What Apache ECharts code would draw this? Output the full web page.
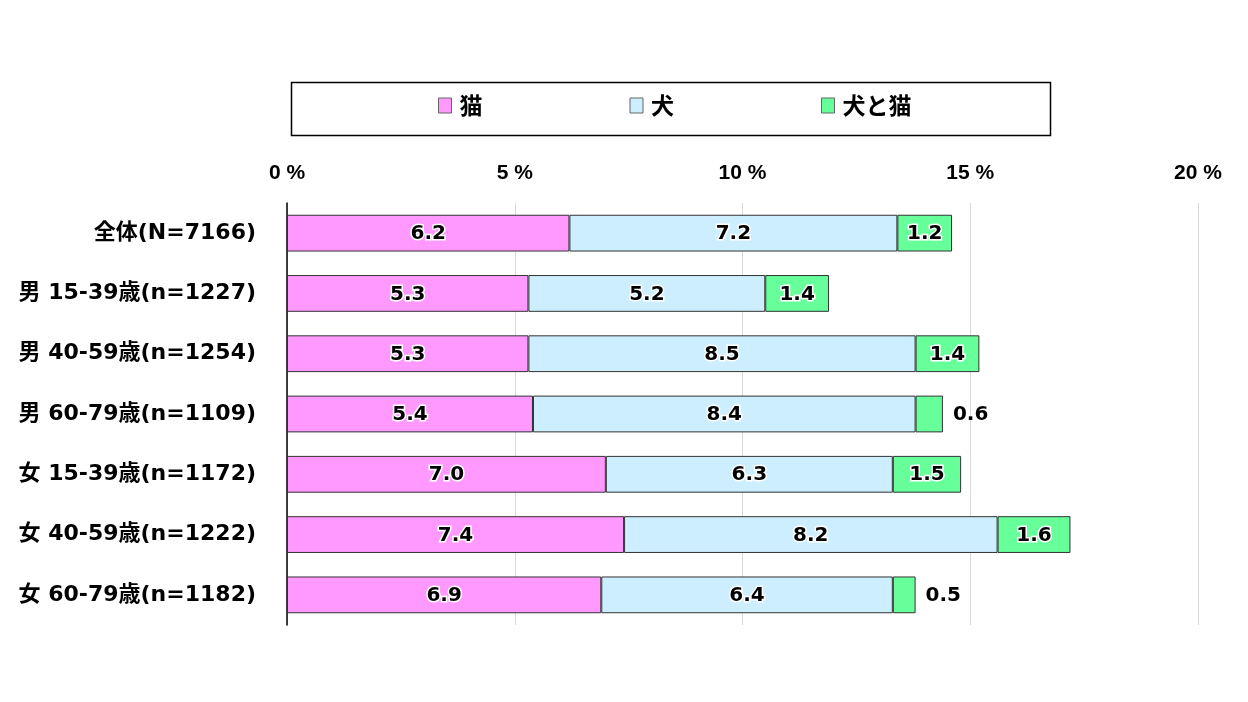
<!DOCTYPE html>
<html>
<head>
<meta charset="utf-8">
<script src="https://cdn.jsdelivr.net/npm/echarts@6/dist/echarts.min.js"></script>
<style>
    html, body { margin: 0; padding: 0; background: #fff; }
    #chart { width: 1248px; height: 702px; }
</style>
</head>
<body>
<div id="chart"></div>
<script>
    // 属性ごとのカテゴリ
    var categories = ['全体(N=7166)', '男 15-39歳(n=1227)', '男 40-59歳(n=1254)', '男 60-79歳(n=1109)',
                      '女 15-39歳(n=1172)', '女 40-59歳(n=1222)', '女 60-79歳(n=1182)'];
    var seriesNames = ['猫', '犬', '犬と猫'];
    var catValues = [6.2, 5.3, 5.3, 5.4, 7.0, 7.4, 6.9];
    var dogValues = [7.2, 5.2, 8.5, 8.4, 6.3, 8.2, 6.4];
    var bothValues = [1.2, 1.4, 1.4, 0.6, 1.5, 1.6, 0.5];
    var xTicks = [0, 5, 10, 15, 20];
    var colors = ['#ff99ff', '#cceeff', '#66ff99'];

    var font = '"DejaVu Sans", "Noto Sans CJK JP", sans-serif';
    var cjkFont = '"Noto Sans CJK JP", sans-serif';

    // 値が小さいときはラベルを棒の外に出す
    function toData(values) {
        return values.map(function (v) {
            if (v < 1) {
                return { value: v, label: { position: 'right', distance: 10, textBorderWidth: 0 } };
            }
            return v;
        });
    }

    var chart = echarts.init(document.getElementById('chart'));

    var series = [catValues, dogValues, bothValues].map(function (values, i) {
        return {
            name: seriesNames[i],
            type: 'bar',
            stack: 'total',
            barWidth: '61%',
            itemStyle: {
                color: colors[i],
                borderColor: '#333',
                borderWidth: 1
            },
            label: {
                show: true,
                position: 'inside',
                offset: [0, 1],
                color: '#000',
                fontFamily: font,
                fontWeight: 'bold',
                fontSize: 20,
                textBorderColor: '#fff',
                textBorderWidth: 3,
                formatter: function (p) { return p.value.toFixed(1); }
            },
            data: toData(values)
        };
    });

    chart.setOption({
        animation: false,
        graphic: [{
            type: 'rect',
            shape: { x: 291.5, y: 82.5, width: 759, height: 53 },
            style: { fill: 'none', stroke: '#000', lineWidth: 1.5 },
            silent: true
        }],
        legend: {
            top: 94,
            left: 438,
            padding: 0,
            itemGap: 147,
            itemWidth: 13,
            itemHeight: 15,
            icon: 'rect',
            itemStyle: { borderColor: '#666', borderWidth: 1 },
            textStyle: { fontFamily: cjkFont, fontWeight: 'bold', fontSize: 23, color: '#000', padding: [0, 0, 0, 3] },
            data: seriesNames
        },
        grid: {
            left: 287,
            right: 50,
            top: 203,
            bottom: 77,
            containLabel: false
        },
        xAxis: {
            type: 'value',
            position: 'top',
            min: xTicks[0],
            max: xTicks[xTicks.length - 1],
            interval: 5,
            axisLine: { show: false },
            axisTick: { show: false },
            axisLabel: {
                margin: 19,
                color: '#000',
                fontFamily: '"Liberation Sans", sans-serif',
                fontWeight: 'bold',
                fontSize: 21,
                formatter: '{value} %'
            },
            splitLine: { show: true, lineStyle: { color: '#d9d9d9', width: 1 } }
        },
        yAxis: {
            type: 'category',
            inverse: true,
            data: categories,
            axisLine: { show: true, lineStyle: { color: '#000', width: 1.5 } },
            axisTick: { show: false },
            axisLabel: {
                margin: 31,
                color: '#000',
                fontFamily: font,
                fontWeight: 'bold',
                fontSize: 22
            }
        },
        series: series
    });
</script>
</body>
</html>
